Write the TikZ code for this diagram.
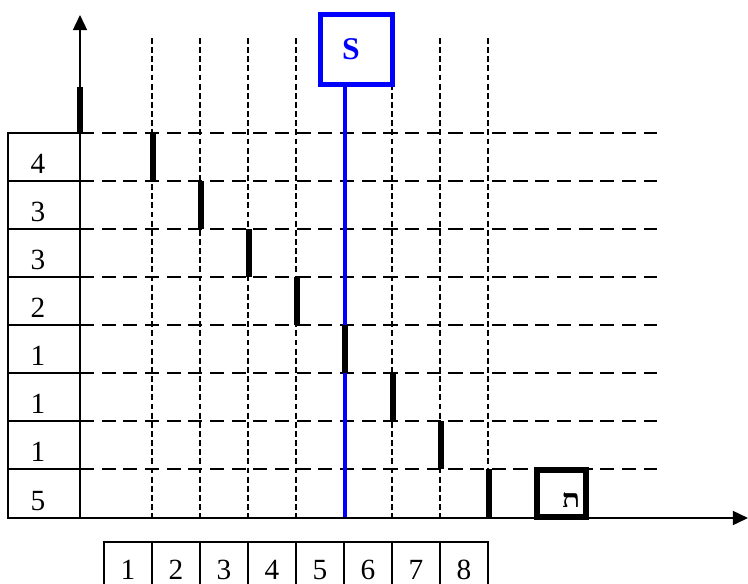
\documentclass[tikz,border=0pt]{standalone}
\usepackage{fontspec}
\setmainfont{Liberation Serif}
\newfontfamily\hebfont[Script=Hebrew]{Liberation Serif}
\usetikzlibrary{arrows.meta}

\tikzset{
  row line/.style={black,line width=1.8pt,dash pattern=on 12pt off 6.5pt},
  col line/.style={black,line width=1.8pt,dash pattern=on 5pt off 2.8pt},
  axis/.style={black,line width=1.7pt,-{Triangle[length=13pt,width=12pt]}},
  stair/.style={black,line width=5.4pt},
  cell/.style={draw=black,line width=1.3pt},
  rownum/.style={font=\fontsize{25}{27}\selectfont,anchor=base,inner sep=0pt},
  colnum/.style={font=\fontsize{25}{27}\selectfont,anchor=base,inner sep=0pt},
}

\begin{document}
\begin{tikzpicture}[x=.03cm,y=-.03cm]
\useasboundingbox (0,0) rectangle (748,584);
% dashed grid
\draw[col line] (152,38) -- (152,518);
\draw[col line] (200,38) -- (200,518);
\draw[col line] (248,38) -- (248,518);
\draw[col line] (296,38) -- (296,518);
\draw[col line] (392,38) -- (392,518);
\draw[col line] (440,38) -- (440,518);
\draw[col line] (488,38) -- (488,518);
\draw[row line] (80,133) -- (657,133);
\draw[row line] (80,181) -- (657,181);
\draw[row line] (80,229) -- (657,229);
\draw[row line] (80,277) -- (657,277);
\draw[row line] (80,325) -- (657,325);
\draw[row line] (80,373) -- (657,373);
\draw[row line] (80,421) -- (657,421);
\draw[row line] (80,469) -- (657,469);
% left table
\draw[cell] (8,133) rectangle (80,518);
\draw[cell] (8,181) -- (80,181);
\draw[cell] (8,229) -- (80,229);
\draw[cell] (8,277) -- (80,277);
\draw[cell] (8,325) -- (80,325);
\draw[cell] (8,373) -- (80,373);
\draw[cell] (8,421) -- (80,421);
\draw[cell] (8,469) -- (80,469);
\node[rownum] (row1) at (38,173) {4};
\node[rownum] (row2) at (38,221) {3};
\node[rownum] (row3) at (38,269) {3};
\node[rownum] (row4) at (38,317) {2};
\node[rownum] (row5) at (38,365) {1};
\node[rownum] (row6) at (38,413) {1};
\node[rownum] (row7) at (38,461) {1};
\node[rownum] (row8) at (38,510) {5};
% bottom table
\draw[cell] (104,542) rectangle (488,600);
\draw[cell] (152,542) -- (152,600);
\draw[cell] (200,542) -- (200,600);
\draw[cell] (248,542) -- (248,600);
\draw[cell] (296,542) -- (296,600);
\draw[cell] (344,542) -- (344,600);
\draw[cell] (392,542) -- (392,600);
\draw[cell] (440,542) -- (440,600);
\node[colnum] (col1) at (128,579) {1};
\node[colnum] (col2) at (176,579) {2};
\node[colnum] (col3) at (224,579) {3};
\node[colnum] (col4) at (272,579) {4};
\node[colnum] (col5) at (320,579) {5};
\node[colnum] (col6) at (368,579) {6};
\node[colnum] (col7) at (416,579) {7};
\node[colnum] (col8) at (464,579) {8};
% S box and its line
\node[draw=blue,line width=4.5pt,minimum width=2.16cm,minimum height=2.1cm,fill=white] (sbox) at (356.5,49.5) {};
\node[text=blue,font=\bfseries\fontsize{27}{29}\selectfont,inner sep=0pt] (slabel) at (351,49) {S};
\coordinate (sfoot) at (345,518);
\draw[blue,line width=4pt] (sbox.south -| sfoot) -- (sfoot);
% axes
\draw[axis] (80,518) -- (80,15);
\draw[axis] (8,518) -- (748,518);
% staircase
\draw[stair] (80,87) -- (80,133);
\draw[stair] (153,133) -- (153,181);
\draw[stair] (201,181) -- (201,229);
\draw[stair] (249,229) -- (249,277);
\draw[stair] (297,277) -- (297,325);
\draw[stair] (345,325) -- (345,373);
\draw[stair] (393,373) -- (393,421);
\draw[stair] (441,421) -- (441,469);
\draw[stair] (489,469) -- (489,518);
% end box
\node[draw=black,line width=4.5pt,minimum width=1.47cm,minimum height=1.41cm,fill=white] (dbox) at (561.5,493.5) {};
\begin{scope}
\clip (540,472) rectangle (584,506);
\node[font=\hebfont\bfseries\fontsize{26}{28}\selectfont,anchor=base,inner sep=0pt] (dlabel) at (571,510) {ת};
\end{scope}
\end{tikzpicture}
\end{document}
